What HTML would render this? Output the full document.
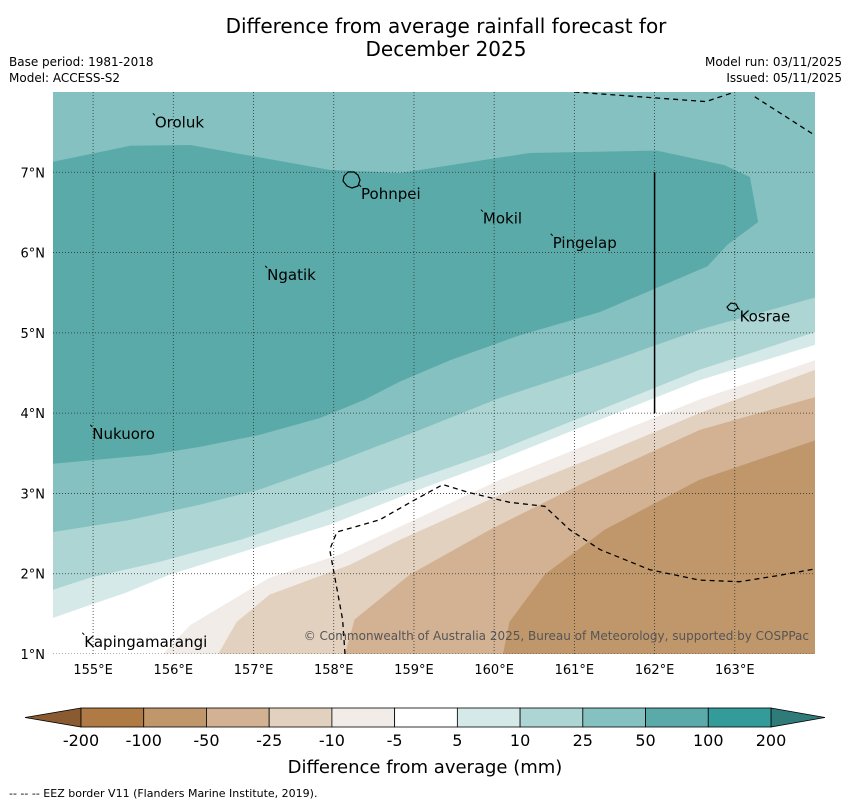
<!DOCTYPE html>
<html><head><meta charset="utf-8"><style>
body{margin:0;background:#fff;width:850px;height:804px;overflow:hidden;font-family:"Liberation Sans","DejaVu Sans",sans-serif}
svg text{font-family:"DejaVu Sans","Liberation Sans",sans-serif}
</style></head><body>
<svg id="chart" width="850" height="804" xmlns="http://www.w3.org/2000/svg">
<text x="446" y="33" font-size="20" text-anchor="middle">Difference from average rainfall forecast for</text>
<text x="446" y="56" font-size="20" text-anchor="middle">December 2025</text>
<text x="9" y="66" font-size="12">Base period: 1981-2018</text>
<text x="9" y="82" font-size="12">Model: ACCESS-S2</text>
<text x="842" y="66" font-size="12" text-anchor="end">Model run: 03/11/2025</text>
<text x="842" y="82" font-size="12" text-anchor="end">Issued: 05/11/2025</text>
<text x="9" y="797" font-size="11">--  --  -- EEZ border V11 (Flanders Marine Institute, 2019).</text>
<text x="425" y="773" font-size="18" text-anchor="middle">Difference from average (mm)</text>
</svg>
<script>
const lonTicks=[155,156,157,158,159,160,161,162,163];
const latTicks=[1,2,3,4,5,6,7];
const region50=[[154.5,7.13],[155.46,7.33],[156.21,7.34],[157.95,7.03],[158.82,6.99],[160.44,7.24],[162.03,7.27],[162.87,7.09],[163.19,6.94],[163.29,6.38],[162.91,6.10],[162.66,5.83],[161.32,5.26],[160.32,4.97],[159.45,4.66],[158.82,4.39],[158.39,4.17],[157.83,3.94],[157.08,3.73],[156.33,3.58],[155.71,3.48],[154.5,3.37]];
const line25=[[154.5,2.52],[155.46,2.67],[156.33,2.86],[157.08,3.05],[157.95,3.36],[159.07,3.79],[160.07,4.19],[161.32,4.60],[162.56,5.04],[164.0,5.44]];
const line10=[[154.5,1.80],[154.96,1.95],[155.83,2.15],[156.83,2.42],[157.58,2.67],[158.82,3.11],[160.07,3.54],[161.32,4.04],[162.56,4.54],[164.0,5.01]];
const line5=[[154.5,1.45],[154.96,1.61],[155.40,1.76],[155.96,1.99],[156.95,2.30],[157.95,2.61],[159.07,3.05],[160.07,3.42],[161.32,3.92],[162.56,4.41],[164.0,4.85]];
const lineM5=[[155.87,1.0],[156.21,1.36],[157.20,1.95],[158.08,2.24],[159.07,2.70],[160.07,3.17],[161.32,3.67],[162.56,4.17],[164.0,4.66]];
const lineM10=[[156.56,1.0],[156.79,1.40],[157.20,1.74],[158.20,2.11],[158.82,2.42],[160.07,2.98],[161.32,3.48],[162.56,4.00],[164.0,4.54]];
const lineM25=[[158.14,1.0],[158.26,1.43],[158.95,1.99],[159.95,2.55],[161.07,3.11],[162.56,3.79],[164.0,4.20]];
const lineM50=[[160.11,1.0],[160.19,1.40],[160.63,1.99],[161.38,2.55],[162.56,3.17],[164.0,3.66]];
const cbLevels=["-200","-100","-50","-25","-10","-5","5","10","25","50","100","200"];
const cbColors=["#b07a45","#c0976a","#d2b293","#e3d1bf","#f2ece8","#ffffff","#d5e9e8","#acd5d4","#84c1c0","#5aaaa9","#339b99"];
const places=[["Oroluk",155.77,7.56],["Pohnpei",158.34,6.67],["Mokil",159.86,6.36],["Pingelap",160.73,6.06],["Ngatik",157.17,5.66],["Kosrae",163.06,5.14],["Nukuoro",154.99,3.68],["Kapingamarangi",154.89,1.09]];
const eezBottom=[[158.14,1.0],[158.11,1.43],[157.95,2.3],[158.04,2.52],[158.57,2.67],[159.01,2.92],[159.36,3.11],[159.69,3.01],[160.19,2.89],[160.63,2.84],[160.94,2.55],[161.32,2.30],[161.94,2.05],[162.56,1.92],[163.06,1.90],[163.56,1.98],[164.0,2.06]];
const eezTop1=[[161.0,8.0],[162.64,7.88],[163.0,8.0]];
const eezTop2=[[163.25,7.94],[164.0,7.46]];

const NS="http://www.w3.org/2000/svg";
const svg=document.getElementById('chart');
const X0=53,X1=815,Y0=92,Y1=654,LON0=154.5,LON1=164,LAT0=1,LAT1=8;
const xs=l=>X0+(l-LON0)/(LON1-LON0)*(X1-X0);
const ys=l=>Y1-(l-LAT0)/(LAT1-LAT0)*(Y1-Y0);
function mk(tag,attrs,parent){const e=document.createElementNS(NS,tag);for(const k in attrs)e.setAttribute(k,attrs[k]);(parent||svg).appendChild(e);return e;}
const pts=a=>a.map(p=>xs(p[0]).toFixed(1)+','+ys(p[1]).toFixed(1)).join(' ');
const defs=mk('defs',{});const cp=mk('clipPath',{id:'clip'},defs);mk('rect',{x:X0,y:Y0,width:X1-X0,height:Y1-Y0},cp);
const g=mk('g',{'clip-path':'url(#clip)'});


const bg=mk('rect',{x:X0,y:Y0,width:X1-X0,height:Y1-Y0,fill:'#84c1c0'},g);


const dark=mk('polygon',{points:pts(region50),fill:'#5aaaa9'},g);


const bands=[[line25,'#acd5d4','band-10-25'],[line10,'#d5e9e8','band-5-10'],[line5,'#ffffff','band-minus5-5'],[lineM5,'#f2ece8','band-minus10-minus5'],[lineM10,'#e3d1bf','band-minus25-minus10'],[lineM25,'#d2b293','band-minus50-minus25'],[lineM50,'#c0976a','band-minus100-minus50']];
bands.forEach(b=>{
  let a=b[0].slice();a.push([LON1,LAT0]);if(a[0][1]>LAT0)a.push([LON0,LAT0]);
  const p=mk('polygon',{points:pts(a),fill:b[1]},g);
  
  
});
lonTicks.forEach(l=>{
  const ln=mk('line',{x1:xs(l),x2:xs(l),y1:Y0,y2:Y1,stroke:'#333','stroke-width':0.8,'stroke-dasharray':'1,2'},g);
  
  
  const t=mk('text',{x:xs(l),y:Y1+20,'font-size':13,'text-anchor':'middle'});t.textContent=l+'°E';
  
  
});
latTicks.forEach(l=>{
  const ln=mk('line',{x1:X0,x2:X1,y1:ys(l),y2:ys(l),stroke:'#333','stroke-width':0.8,'stroke-dasharray':'1,2'},g);
  
  
  const t=mk('text',{x:45,y:ys(l)+5,'font-size':13,'text-anchor':'end'});t.textContent=l+'°N';
  
  
});
[eezBottom,eezTop1,eezTop2].forEach(a=>{
  const e=mk('polyline',{points:pts(a),fill:'none',stroke:'#000','stroke-width':1.3,'stroke-dasharray':'5,4'},g);
  
  
});
const vl=mk('line',{x1:xs(162),x2:xs(162),y1:ys(7),y2:ys(4),stroke:'#000','stroke-width':1.5},g);


const pohn=mk('path',{d:'M344,176 l4,-4 l6,0 l4,3 l2,5 l-2,6 l-6,2 l-5,-2 l-4,-5 z',fill:'none',stroke:'#000','stroke-width':1.2},g);


const kos=mk('path',{d:'M727,307 l4,-4 l5,1 l2,4 l-4,3 l-5,-1 z',fill:'none',stroke:'#000','stroke-width':1.2},g);


places.forEach(p=>{
  const x=xs(p[1]),y=ys(p[2]);
  const m=mk('line',{x1:x-2,y1:y-14,x2:x,y2:y-12,stroke:'#000','stroke-width':1},g);
  
  
  const t=mk('text',{x:x,y:y,'font-size':15},g);t.textContent=p[0];
  
  
});
const cr=mk('text',{x:809,y:640,'font-size':12,'text-anchor':'end',fill:'#555'},g);
cr.textContent='© Commonwealth of Australia 2025, Bureau of Meteorology, supported by COSPPac';


const CB0=81,CB1=771,CBY=708,CBH=19,seg=(CB1-CB0)/cbColors.length;
const lt=mk('polygon',{points:`${CB0},${CBY} 25,${CBY+CBH/2} ${CB0},${CBY+CBH}`,fill:'#8a5a30',stroke:'#000','stroke-width':0.8});


const rt=mk('polygon',{points:`${CB1},${CBY} 825,${CBY+CBH/2} ${CB1},${CBY+CBH}`,fill:'#2e7b7a',stroke:'#000','stroke-width':0.8});


cbColors.forEach((c,i)=>{
  const r=mk('rect',{x:CB0+i*seg,y:CBY,width:seg,height:CBH,fill:c,stroke:'#000','stroke-width':0.8});
  
  
});
cbLevels.forEach((v,i)=>{
  const t=mk('text',{x:CB0+i*seg,y:746,'font-size':16,'text-anchor':'middle'});t.textContent=v;
  
  
});
</script>
</body></html>
